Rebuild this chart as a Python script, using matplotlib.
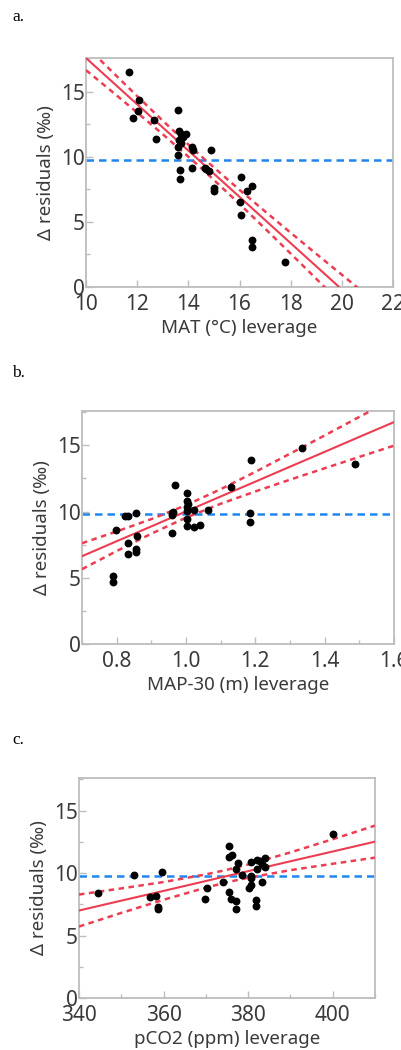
import numpy as np
import matplotlib
matplotlib.use('Agg')
from matplotlib import pyplot as plt
from matplotlib.ticker import MultipleLocator

plt.rcParams['font.family'] = ['Noto Sans', 'DejaVu Sans']

# panel a: MAT leverage
mat_x = [11.69, 11.82, 12.08, 12.03, 12.66, 12.75, 13.61, 13.62, 13.73, 13.91, 13.65, 13.73,
         13.61, 13.61, 13.67, 13.67, 14.16, 14.17, 14.16, 14.90, 14.63, 14.79, 14.99, 14.99,
         16.06, 16.02, 16.07, 16.27, 16.50, 16.50, 16.50, 17.77, 13.80, 14.70]
mat_y = [16.52, 13.02, 14.41, 13.51, 12.82, 11.40, 13.64, 12.02, 11.76, 11.76, 11.33, 11.07,
         10.74, 10.17, 9.02, 8.30, 10.76, 10.56, 9.17, 10.53, 9.17, 8.89, 7.58, 7.40,
         8.43, 6.50, 5.57, 7.35, 7.76, 3.62, 3.11, 1.90, 11.50, 9.05]
mat_band_x = [10, 11, 12, 13, 14.4, 16, 17, 18, 19, 20, 21]
mat_fit = [17.60, 15.82, 14.04, 12.26, 9.77, 6.92, 5.14, 3.36, 1.58, -0.20, -1.98]
mat_hi = [18.53, 16.59, 14.67, 12.78, 10.22, 7.46, 5.80, 4.16, 2.54, 0.93, -0.68]
mat_lo = [16.67, 15.05, 13.41, 11.74, 9.32, 6.38, 4.48, 2.56, 0.62, -1.33, -3.28]

# panel b: MAP-30 leverage
map_x = [0.790, 0.790, 0.797, 0.824, 0.834, 0.856, 0.834, 0.832, 0.856, 0.856, 0.860, 0.959,
         0.959, 0.959, 0.969, 1.003, 1.003, 1.003, 1.003, 1.003, 1.003, 1.023, 1.040, 1.024,
         1.063, 1.129, 1.187, 1.186, 1.185, 1.334, 1.489, 1.006, 0.962]
map_y = [5.15, 4.67, 8.59, 9.67, 9.67, 9.90, 7.66, 6.81, 7.16, 6.96, 8.14, 8.39,
         9.90, 9.72, 12.01, 11.41, 10.80, 10.35, 10.03, 9.47, 8.94, 8.84, 9.02, 10.10,
         10.10, 11.86, 13.92, 9.90, 9.25, 14.82, 13.59, 10.60, 10.00]
map_band_x = [0.7, 0.8, 0.9, 1.0, 1.1, 1.2, 1.3, 1.4, 1.5, 1.6]
map_fit = [6.63, 7.76, 8.88, 10.01, 11.14, 12.26, 13.39, 14.51, 15.64, 16.76]
map_hi = [7.61, 8.50, 9.43, 10.48, 11.69, 13.00, 14.37, 15.75, 17.15, 18.54]
map_lo = [5.65, 7.02, 8.33, 9.54, 10.59, 11.52, 12.41, 13.27, 14.13, 14.98]

# panel c: pCO2 leverage
co2_x = [344.4, 352.9, 359.6, 356.7, 358.2, 358.6, 358.6, 369.9, 370.4, 374.0, 375.4, 375.4,
         376.3, 375.4, 375.9, 377.1, 377.1, 377.1, 377.7, 378.5, 380.6, 380.6, 380.6, 380.6,
         380.2, 381.9, 381.9, 382.2, 382.2, 383.4, 382.8, 384.0, 384.0, 383.2, 400.1]
co2_y = [8.43, 9.81, 10.05, 8.06, 8.19, 7.26, 7.10, 7.92, 8.80, 9.25, 12.14, 11.29,
         11.48, 8.51, 7.92, 7.79, 7.10, 10.31, 10.84, 9.86, 10.92, 9.78, 9.59, 9.06,
         8.77, 7.85, 7.34, 11.03, 10.36, 9.30, 11.00, 11.18, 10.49, 10.70, 13.15]
co2_band_x = [340, 350, 360, 370, 375, 380, 390, 400, 410]
co2_fit = [7.00, 7.79, 8.57, 9.36, 9.76, 10.15, 10.94, 11.72, 12.51]
co2_hi = [8.28, 8.77, 9.28, 9.89, 10.26, 10.68, 11.65, 12.70, 13.79]
co2_lo = [5.72, 6.81, 7.86, 8.83, 9.26, 9.62, 10.23, 10.74, 11.23]

mean_resid = 9.78

RED = '#ec3d52'
BLUE = '#1f86ef'
GRID_GREY = '#bdbdbd'
TEXT_GREY = '#3a3a3a'


def draw_panel(ax, x, y, bx, fit, hi, lo, xlim, xmajor, xminor, xlabel, xfmt):
    ax.axhline(mean_resid, color=BLUE, lw=1.8, ls=(0, (3, 2)), zorder=2)
    ax.plot(bx, fit, color=RED, lw=1.5, zorder=3)
    ax.plot(bx, hi, color=RED, lw=1.8, ls=(0, (2.2, 1.8)), zorder=3)
    ax.plot(bx, lo, color=RED, lw=1.8, ls=(0, (2.2, 1.8)), zorder=3)
    ax.scatter(x, y, s=32, color='black', zorder=4, linewidths=0)

    ax.set_xlim(*xlim)
    ax.set_ylim(0, 17.6)
    ax.xaxis.set_major_locator(MultipleLocator(xmajor))
    if xminor:
        ax.xaxis.set_minor_locator(MultipleLocator(xminor))
    ax.yaxis.set_major_locator(MultipleLocator(5))
    ax.yaxis.set_minor_locator(MultipleLocator(2.5))
    ax.set_xticklabels([xfmt.format(v) for v in ax.get_xticks()])

    for s in ax.spines.values():
        s.set_color(GRID_GREY)
        s.set_linewidth(1.3)
    ax.tick_params(which='major', direction='in', length=5, width=1, color=GRID_GREY,
                   labelsize=15, labelcolor=TEXT_GREY)
    ax.tick_params(axis='y', which='major', pad=1)
    ax.tick_params(axis='x', which='major', pad=5)
    ax.tick_params(which='minor', direction='in', length=3, width=1, color=GRID_GREY)
    ax.set_xlabel(xlabel, fontsize=13.5, color=TEXT_GREY, labelpad=3)
    ax.set_ylabel('Δ residuals (‰)', fontsize=13.5, color=TEXT_GREY, labelpad=4)


fig = plt.figure(figsize=(4.02, 10.5), dpi=100)

ax_a = fig.add_axes([0.214, 0.7267, 0.764, 0.218])
draw_panel(ax_a, mat_x, mat_y, mat_band_x, mat_fit, mat_hi, mat_lo,
           (10, 22), 2, None, 'MAT (°C) leverage', '{:.0f}')

ax_b = fig.add_axes([0.204, 0.3867, 0.776, 0.2219])
draw_panel(ax_b, map_x, map_y, map_band_x, map_fit, map_hi, map_lo,
           (0.7, 1.6), 0.2, 0.1, 'MAP-30 (m) leverage', '{:.1f}')

ax_c = fig.add_axes([0.1965, 0.0495, 0.736, 0.2095])
draw_panel(ax_c, co2_x, co2_y, co2_band_x, co2_fit, co2_hi, co2_lo,
           (340, 410), 20, 10, 'pCO2 (ppm) leverage', '{:.0f}')

for lbl, ypx in [('a.', 17), ('b.', 373), ('c.', 740)]:
    fig.text(12 / 402, 1 - ypx / 1050, lbl, family=['Liberation Serif', 'DejaVu Serif'],
             fontsize=12.5, va='center', ha='left', color='black')

fig.savefig('out.png', dpi=100)
